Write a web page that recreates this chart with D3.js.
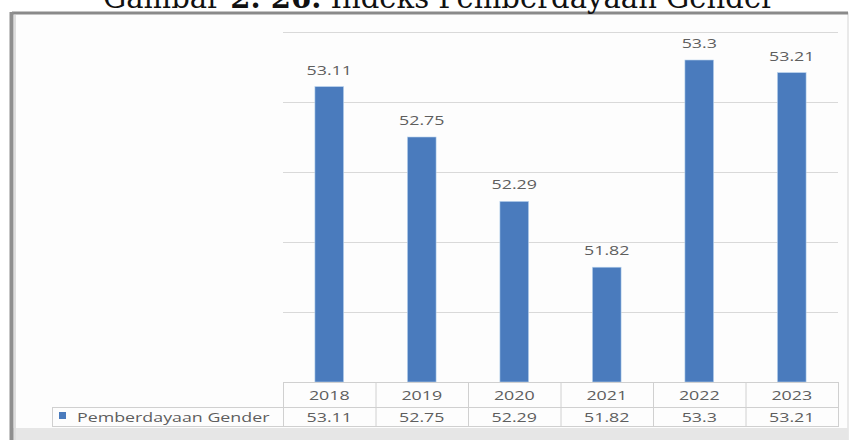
<!DOCTYPE html>
<html><head><meta charset="utf-8">
<script src="https://cdn.jsdelivr.net/npm/d3@7"></script>
<style>html,body{margin:0;padding:0;background:#fff;overflow:hidden}</style>
</head><body>
<svg id="c" width="853" height="440"></svg>
<script>
const years = ["2018","2019","2020","2021","2022","2023"];
const values = [53.11, 52.75, 52.29, 51.82, 53.3, 53.21];
const seriesName = "Pemberdayaan Gender";
const gridTicks = [51.5, 52, 52.5, 53, 53.5];
const titleParts = [{t:"Gambar ", b:false},{t:"2. 26.", b:true},{t:" Indeks Pemberdayaan Gender", b:false}];

const svg = d3.select("#c");
const W = 853, H = 440;
const barColor = "#4a7bbd";
const txtColor = "#5e5e5e";
const sx = 1.32;

// page background + frame
svg.append("rect").attr("x",0).attr("y",0).attr("width",W).attr("height",H).attr("fill","#fff");
svg.append("rect").attr("x",12).attr("y",13).attr("width",836).attr("height",430)
  .attr("fill","#fdfdfd").attr("stroke","#d4d4d4").attr("stroke-width",1);
svg.append("rect").attr("x",12).attr("y",428).attr("width",836).attr("height",12).attr("fill","#e6e6e6");
svg.append("line").attr("x1",12).attr("x2",848).attr("y1",13).attr("y2",13).attr("stroke","#8a8a8a").attr("stroke-width",3);
svg.append("line").attr("x1",11.5).attr("x2",11.5).attr("y1",12).attr("y2",440).attr("stroke","#8f8f8f").attr("stroke-width",4);
svg.append("line").attr("x1",15).attr("x2",15).attr("y1",15).attr("y2",440).attr("stroke","#dedede").attr("stroke-width",2);

// title (cut off at top)
const title = svg.append("text").attr("x",103).attr("y",8)
  .attr("font-family","'DejaVu Serif', 'Liberation Serif', serif").attr("font-size",30)
  .attr("fill","#111").attr("textLength",672).attr("lengthAdjust","spacingAndGlyphs");
titleParts.forEach(p => title.append("tspan").attr("font-weight", p.b ? "bold" : "normal").text(p.t));

// scales
const x = d3.scaleBand().domain(years).range([283, 838]).paddingInner(0.69).paddingOuter(0.345);
const cols = d3.scaleBand().domain(years).range([283, 838]).padding(0);
const y = d3.scaleLinear().domain([51, 53.5]).range([382, 32]);

// gridlines
const grid = svg.append("g").attr("transform","translate(283,0)")
  .call(d3.axisLeft(y).tickValues(gridTicks).tickSize(-555).tickFormat(""));
grid.select(".domain").remove();
grid.selectAll(".tick line").attr("stroke","#d9d9d9").attr("stroke-width",1.2);

// bars
svg.append("g").selectAll("rect").data(values).join("rect")
  .attr("x",(d,i)=>x(years[i])).attr("width",x.bandwidth())
  .attr("y",d=>y(d)).attr("height",d=>y(51)-y(d))
  .attr("fill",barColor).attr("stroke","#b9d3ee").attr("stroke-width",0.6);

function stretchedText(g, tx, ty, str, anchor){
  return g.append("text").attr("transform",`translate(${tx},${ty}) scale(${sx},1)`)
    .attr("text-anchor",anchor||"middle")
    .attr("font-family","'Open Sans', 'Liberation Sans', sans-serif").attr("font-size",13.5)
    .attr("fill",txtColor).text(str);
}

// data labels
const lbl = svg.append("g");
values.forEach((v,i)=> stretchedText(lbl, x(years[i])+x.bandwidth()/2, y(v)-12, String(v)));

// data table
const tb = svg.append("g");
const lineC = "#d0d0d0";
// header row top
tb.append("line").attr("x1",283).attr("x2",838).attr("y1",382.5).attr("y2",382.5).attr("stroke",lineC);
tb.append("line").attr("x1",52).attr("x2",838).attr("y1",407.5).attr("y2",407.5).attr("stroke",lineC);
tb.append("line").attr("x1",52).attr("x2",838).attr("y1",426.5).attr("y2",426.5).attr("stroke",lineC);
tb.append("line").attr("x1",52.5).attr("x2",52.5).attr("y1",407).attr("y2",427).attr("stroke",lineC);
years.forEach((yr,i)=>{
  tb.append("line").attr("x1",cols(yr)+0.5).attr("x2",cols(yr)+0.5).attr("y1",382).attr("y2",427).attr("stroke",lineC);
});
tb.append("line").attr("x1",838.5).attr("x2",838.5).attr("y1",382).attr("y2",427).attr("stroke",lineC);
years.forEach((yr,i)=>{
  const cx = cols(yr)+cols.bandwidth()/2;
  stretchedText(tb, cx, 400, yr);
  stretchedText(tb, cx, 422, String(values[i]));
});
// legend key
tb.append("rect").attr("x",59).attr("y",412).attr("width",7).attr("height",7).attr("fill",barColor);
stretchedText(tb, 77, 422, seriesName, "start");
</script>
</body></html>
